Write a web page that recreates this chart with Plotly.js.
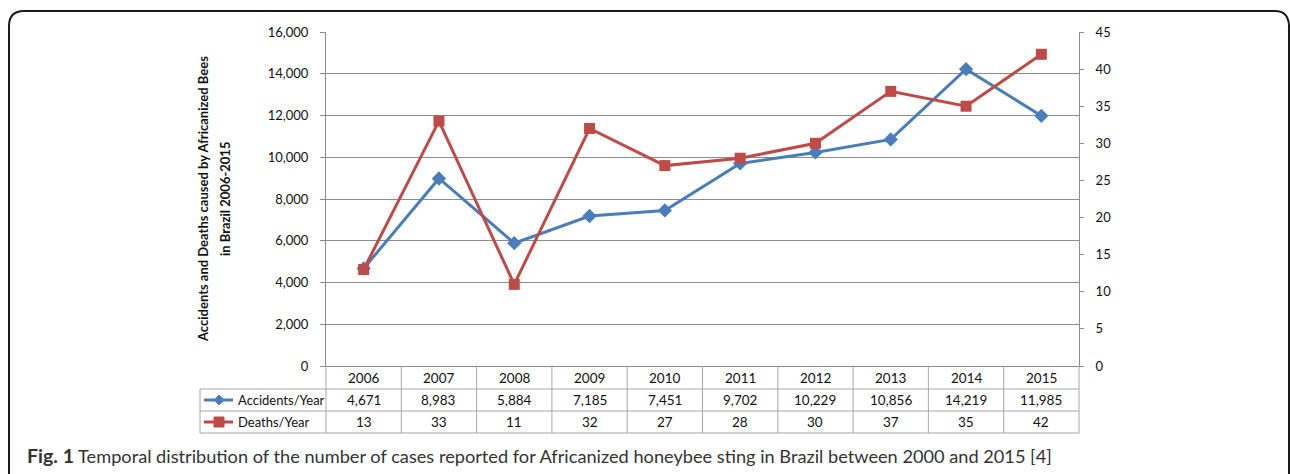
<!DOCTYPE html>
<html>
<head>
<meta charset="utf-8">
<script src="https://cdn.plot.ly/plotly-3.0.1.min.js"></script>
<style>
html,body{margin:0;padding:0;background:#fff;}
#chart{width:1290px;height:474px;}
</style>
</head>
<body>
<div id="chart"></div>
<script>
const years = ['2006','2007','2008','2009','2010','2011','2012','2013','2014','2015'];
const accidents = [4671, 8983, 5884, 7185, 7451, 9702, 10229, 10856, 14219, 11985];
const deaths = [13, 33, 11, 32, 27, 28, 30, 37, 35, 42];
const seriesNames = ['Accidents/Year', 'Deaths/Year'];
const yTitleLines = ['Accidents and Deaths caused by Africanized Bees', 'in Brazil 2006-2015'];
const captionBold = 'Fig. 1';
const captionText = 'Temporal distribution of the number of cases reported for Africanized honeybee sting in Brazil between 2000 and 2015 [4]';

const W = 1290, H = 474;
const X = p => p / W;
const Y = p => 1 - p / H;
const PL = 326, PR = 1079;           // plot area pixel edges
const colW = (PR - PL) / years.length;
const blue = '#4a7ebb', red = '#be4b48';
const gridCol = '#8c8c8c', tableCol = '#a6a6a6';
const font = 'Lato, "Noto Sans", sans-serif';
const fmt = v => v.toLocaleString('en-US');

const traces = [
  {x: years, y: accidents, name: seriesNames[0], type: 'scatter', mode: 'lines+markers',
   line: {color: blue, width: 3}, marker: {symbol: 'diamond', size: 11, color: blue}, yaxis: 'y'},
  {x: years, y: deaths, name: seriesNames[1], type: 'scatter', mode: 'lines+markers',
   line: {color: red, width: 3}, marker: {symbol: 'square', size: 11, color: red}, yaxis: 'y2'}
];

const shapes = [];
const annotations = [];
// rounded frame
shapes.push({type: 'path', xref: 'paper', yref: 'paper', layer: 'above',
  path: `M ${X(9)} ${Y(480)} L ${X(9)} ${Y(26)} Q ${X(9)} ${Y(11)} ${X(24)} ${Y(11)} L ${X(1275)} ${Y(11)} Q ${X(1288)} ${Y(11)} ${X(1289)} ${Y(25)} L ${X(1289)} ${Y(480)}`,
  line: {color: '#1a1a1a', width: 2}});

// table lines
for (let i = 0; i <= years.length; i++) {
  const px = PL + i * colW;
  shapes.push({type: 'line', xref: 'paper', yref: 'paper', x0: X(px), x1: X(px), y0: Y(366), y1: Y(433),
    line: {color: tableCol, width: 1}});
}
[389, 411, 433].forEach(py => {
  shapes.push({type: 'line', xref: 'paper', yref: 'paper', x0: X(200), x1: X(PR), y0: Y(py), y1: Y(py),
    line: {color: tableCol, width: 1}});
});
shapes.push({type: 'line', xref: 'paper', yref: 'paper', x0: X(200), x1: X(200), y0: Y(389), y1: Y(433),
  line: {color: tableCol, width: 1}});

// legend keys inside table
const keyRows = [400, 422];
const keyCols = [blue, red];
keyRows.forEach((py, k) => {
  shapes.push({type: 'line', xref: 'paper', yref: 'paper', x0: X(204), x1: X(233), y0: Y(py), y1: Y(py),
    line: {color: keyCols[k], width: 3}});
  const cx = 219, s = 5;
  if (k === 0) {
    shapes.push({type: 'path', xref: 'paper', yref: 'paper',
      path: `M ${X(cx - s)} ${Y(py)} L ${X(cx)} ${Y(py - s)} L ${X(cx + s)} ${Y(py)} L ${X(cx)} ${Y(py + s)} Z`,
      fillcolor: keyCols[k], line: {color: keyCols[k], width: 1}});
  } else {
    shapes.push({type: 'rect', xref: 'paper', yref: 'paper', x0: X(cx - 5), x1: X(cx + 5), y0: Y(py - 5), y1: Y(py + 5),
      fillcolor: keyCols[k], line: {color: keyCols[k], width: 1}});
  }
  annotations.push({xref: 'paper', yref: 'paper', x: X(236), y: Y(py), xanchor: 'left', yanchor: 'middle',
    text: seriesNames[k], showarrow: false, font: {family: font, size: 13, color: '#111'}});
});

// table cells
years.forEach((yr, i) => {
  const cx = X(PL + (i + 0.5) * colW);
  const cells = [[378, yr], [400, fmt(accidents[i])], [422, fmt(deaths[i])]];
  cells.forEach(([py, txt]) => {
    annotations.push({xref: 'paper', yref: 'paper', x: cx, y: Y(py), xanchor: 'center', yanchor: 'middle',
      text: txt, showarrow: false, font: {family: font, size: 13.5, color: '#111'}});
  });
});

// y-axis title (two lines)
[[203, yTitleLines[0]], [225, yTitleLines[1]]].forEach(([px, txt]) => {
  annotations.push({xref: 'paper', yref: 'paper', x: X(px), y: Y(199), xanchor: 'center', yanchor: 'middle',
    text: '<b>' + txt + '</b>', textangle: -90, showarrow: false,
    font: {family: font, size: 13, color: '#111'}});
});

// caption
annotations.push({xref: 'paper', yref: 'paper', x: X(25), y: Y(455), xanchor: 'left', yanchor: 'middle',
  text: '<span style="font-size:19.5px"><b>' + captionBold + '</b></span> ' + captionText, showarrow: false,
  font: {family: font, size: 18.2, color: '#333'}});

const layout = {
  width: W, height: H,
  margin: {l: 0, r: 0, t: 0, b: 0, pad: 0},
  paper_bgcolor: '#fff', plot_bgcolor: '#fff',
  showlegend: false,
  xaxis: {domain: [X(PL), X(PR)], type: 'category', range: [-0.5, 9.5],
    showticklabels: false, ticks: '', showgrid: false, zeroline: false,
    showline: true, linecolor: gridCol, linewidth: 1, fixedrange: true},
  yaxis: {domain: [Y(366), Y(32)], range: [0, 16000], tickvals: [0,2000,4000,6000,8000,10000,12000,14000,16000],
    tickformat: ',d', ticks: 'outside', ticklen: 5, tickcolor: gridCol, ticklabelstandoff: 9,
    showgrid: true, gridcolor: gridCol, gridwidth: 1, zeroline: false,
    showline: true, linecolor: gridCol, linewidth: 1,
    tickfont: {family: font, size: 13, color: '#111'}, fixedrange: true},
  yaxis2: {overlaying: 'y', side: 'right', anchor: 'x', range: [0, 45], tickvals: [0,5,10,15,20,25,30,35,40,45],
    ticks: 'outside', ticklen: 4, tickcolor: gridCol, ticklabelstandoff: 9,
    showgrid: false, zeroline: false, showline: true, linecolor: gridCol, linewidth: 1,
    tickfont: {family: font, size: 13, color: '#111'}, fixedrange: true},
  shapes: shapes,
  annotations: annotations
};

Plotly.newPlot('chart', traces, layout, {staticPlot: true, displayModeBar: false});
</script>
</body>
</html>
